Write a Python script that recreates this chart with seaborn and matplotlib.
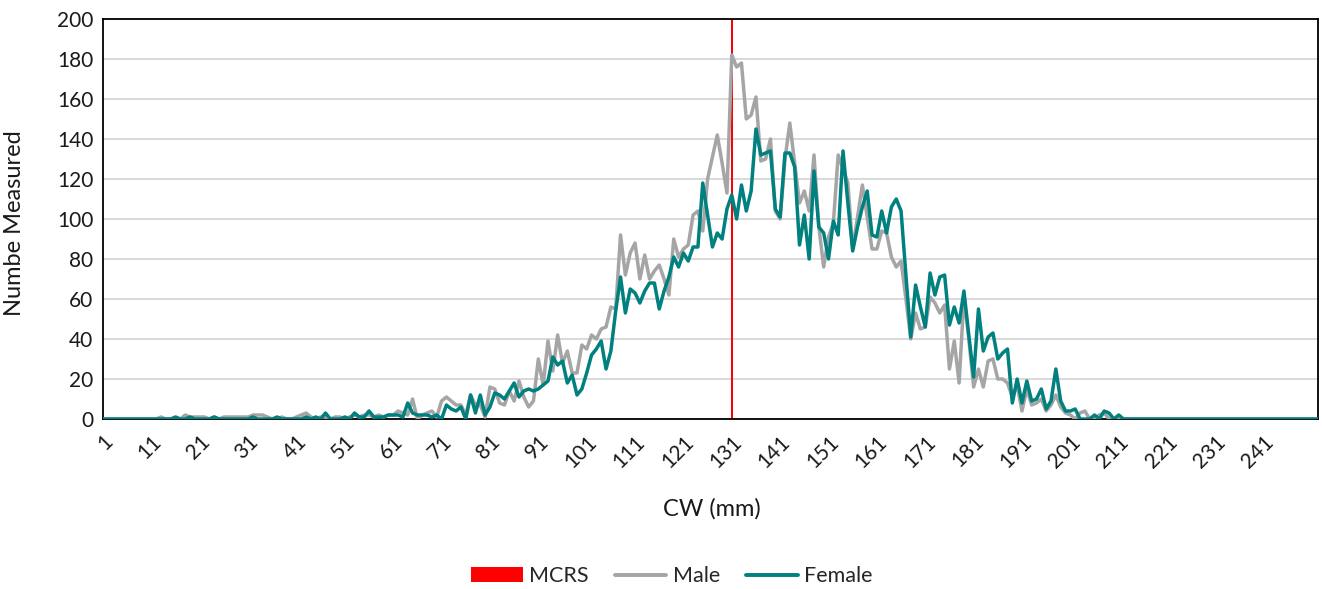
import numpy as np
import pandas as pd
import seaborn as sns
import matplotlib
matplotlib.use("Agg")
import matplotlib.pyplot as plt
from matplotlib.patches import Patch
from matplotlib.lines import Line2D

# ---------------- data ----------------
cw = list(range(1, 253))

male_nonzero = {
    13: 1, 18: 2, 19: 1, 20: 1, 21: 1, 22: 1, 24: 1, 26: 1, 27: 1, 28: 1, 29: 1, 30: 1,
    31: 1, 32: 2, 33: 2, 34: 2, 35: 1, 38: 1, 41: 1, 42: 2, 43: 3, 44: 1, 46: 1, 47: 1,
    49: 1, 50: 1, 52: 1, 53: 2, 54: 1, 55: 2, 56: 2, 57: 1, 58: 2, 59: 1, 60: 2,
    61: 2, 62: 4, 63: 3, 64: 2, 65: 10, 66: 0, 67: 2, 68: 3, 69: 4, 70: 1,
    71: 9, 72: 11, 73: 9, 74: 7, 75: 7, 76: 2, 77: 12, 78: 7, 79: 7, 80: 1,
    81: 16, 82: 15, 83: 8, 84: 7, 85: 14, 86: 9, 87: 19, 88: 11, 89: 6, 90: 9,
    91: 30, 92: 17, 93: 39, 94: 24, 95: 42, 96: 28, 97: 34, 98: 23, 99: 23, 100: 37,
    101: 35, 102: 42, 103: 40, 104: 45, 105: 46, 106: 56, 107: 55, 108: 92, 109: 72, 110: 83,
    111: 88, 112: 70, 113: 82, 114: 70, 115: 74, 116: 77, 117: 70, 118: 62, 119: 90, 120: 81,
    121: 85, 122: 87, 123: 102, 124: 104, 125: 94, 126: 120, 127: 131, 128: 142, 129: 128, 130: 113,
    131: 182, 132: 176, 133: 178, 134: 150, 135: 152, 136: 161, 137: 129, 138: 130, 139: 140, 140: 104,
    141: 100, 142: 130, 143: 148, 144: 128, 145: 108, 146: 114, 147: 104, 148: 132, 149: 96, 150: 76,
    151: 91, 152: 98, 153: 132, 154: 125, 155: 118, 156: 85, 157: 101, 158: 117, 159: 101, 160: 85,
    161: 85, 162: 94, 163: 93, 164: 81, 165: 76, 166: 79, 167: 60, 168: 40, 169: 53, 170: 45,
    171: 46, 172: 61, 173: 58, 174: 53, 175: 57, 176: 25, 177: 39, 178: 18, 179: 61, 180: 40,
    181: 16, 182: 25, 183: 16, 184: 29, 185: 30, 186: 20, 187: 20, 188: 18, 189: 11, 190: 17,
    191: 4, 192: 15, 193: 7, 194: 8, 195: 10, 196: 4, 197: 7, 198: 12, 199: 6, 200: 3,
    201: 2, 203: 3, 204: 4, 207: 2, 208: 3,
}

female_nonzero = {
    16: 1, 19: 1, 24: 1, 32: 1, 37: 1, 43: 1, 45: 1, 47: 3, 51: 1, 53: 3, 54: 1, 55: 1,
    56: 4, 57: 1, 58: 1, 59: 1, 60: 2,
    61: 2, 62: 2, 63: 1, 64: 8, 65: 3, 66: 2, 67: 2, 68: 2, 69: 1, 70: 2,
    71: 0, 72: 7, 73: 5, 74: 4, 75: 6, 76: 0, 77: 12, 78: 3, 79: 12, 80: 2,
    81: 6, 82: 13, 83: 12, 84: 10, 85: 14, 86: 18, 87: 11, 88: 14, 89: 15, 90: 14,
    91: 15, 92: 17, 93: 19, 94: 31, 95: 27, 96: 29, 97: 18, 98: 22, 99: 12, 100: 15,
    101: 23, 102: 32, 103: 35, 104: 39, 105: 25, 106: 34, 107: 54, 108: 71, 109: 53, 110: 65,
    111: 63, 112: 58, 113: 64, 114: 68, 115: 68, 116: 55, 117: 64, 118: 71, 119: 81, 120: 76,
    121: 83, 122: 79, 123: 86, 124: 86, 125: 118, 126: 102, 127: 86, 128: 93, 129: 90, 130: 105,
    131: 112, 132: 100, 133: 117, 134: 104, 135: 114, 136: 145, 137: 132, 138: 133, 139: 134, 140: 105,
    141: 101, 142: 133, 143: 133, 144: 126, 145: 87, 146: 102, 147: 80, 148: 124, 149: 96, 150: 93,
    151: 80, 152: 99, 153: 92, 154: 134, 155: 108, 156: 84, 157: 96, 158: 106, 159: 114, 160: 92,
    161: 91, 162: 104, 163: 93, 164: 106, 165: 110, 166: 104, 167: 72, 168: 41, 169: 67, 170: 56,
    171: 46, 172: 73, 173: 62, 174: 71, 175: 72, 176: 47, 177: 56, 178: 48, 179: 64, 180: 42,
    181: 21, 182: 55, 183: 34, 184: 41, 185: 43, 186: 30, 187: 33, 188: 35, 189: 8, 190: 20,
    191: 8, 192: 19, 193: 9, 194: 10, 195: 15, 196: 5, 197: 9, 198: 25, 199: 9, 200: 4,
    201: 4, 202: 5, 206: 2, 208: 4, 209: 3, 211: 2,
}

male = [male_nonzero.get(c, 0) for c in cw]
female = [female_nonzero.get(c, 0) for c in cw]

mcrs_cw = [131]
mcrs_value = [200]

xtick_labels = [str(v) for v in range(1, 242, 10)]
ytick_values = list(range(0, 201, 20))

# ---------------- plot ----------------
sns.set_theme(style="white")
plt.rcParams["font.family"] = ["Lato", "DejaVu Sans"]

fig = plt.figure(figsize=(13.22, 5.89), dpi=100)
ax = fig.add_axes([103 / 1322, 1 - 419 / 589, (1318 - 103) / 1322, (419 - 19) / 589])

df = pd.DataFrame({
    "CW": cw * 2,
    "Count": male + female,
    "Sex": ["Male"] * len(cw) + ["Female"] * len(cw),
})

grey = "#a5a5a5"
teal = "#00807f"
red = "#ff0000"
txt = "#1a1a1a"

ax.bar(mcrs_cw, mcrs_value, width=0.45, color=red, zorder=2, linewidth=0)
sns.lineplot(data=df, x="CW", y="Count", hue="Sex",
             palette={"Male": grey, "Female": teal},
             linewidth=2.5, ax=ax, legend=False, zorder=3)

ax.set_xlim(1, 252.2)
ax.set_ylim(0, 200)
ax.set_yticks(ytick_values)
ax.set_yticklabels([str(v) for v in ytick_values], fontsize=15, color=txt)
ax.set_xticks(list(range(1, 242, 10)))
ax.set_xticklabels(xtick_labels, rotation=45, ha="right", rotation_mode="anchor",
                   fontsize=15, color=txt)
ax.tick_params(axis="y", length=0, pad=7)
ax.tick_params(axis="x", length=0, pad=9)

ax.yaxis.grid(True, color="#d9d9d9", linewidth=1.4, zorder=0)
ax.xaxis.grid(False)
ax.set_axisbelow(True)
for s in ax.spines.values():
    s.set_visible(True)
    s.set_color("#000000")
    s.set_linewidth(1.3)

ax.set_xlabel("CW (mm)", fontsize=17, color=txt)
ax.set_ylabel("Numbe Measured", fontsize=17, color=txt)
ax.xaxis.set_label_coords(0.501, -0.198)
ax.yaxis.set_label_coords(-0.064, 0.49)

handles = [
    Patch(facecolor=red, edgecolor="none"),
    Line2D([0], [0], color=grey, linewidth=2.8),
    Line2D([0], [0], color=teal, linewidth=2.8),
]
fig.legend(handles, ["MCRS", "Male", "Female"], loc="center",
           bbox_to_anchor=(672 / 1322, 1 - 576 / 589), ncol=3, frameon=False,
           fontsize=15.5, handlelength=2.4, handleheight=0.65, columnspacing=1.2,
           handletextpad=0.3)

fig.savefig("out.png", dpi=100)
